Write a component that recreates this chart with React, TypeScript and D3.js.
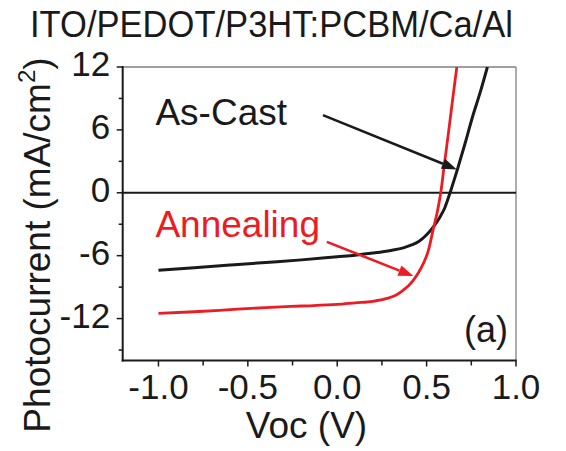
import React from "react";
import * as d3 from "d3";

const title = "ITO/PEDOT/P3HT:PCBM/Ca/Al";
const xLabel = "Voc (V)";
const yLabelMain = "Photocurrent (mA/cm";
const yTicks = [-12, -6, 0, 6, 12];
const yMinorTicks = [-15, -9, -3, 3, 9];
const xTicks = [-1.0, -0.5, 0.0, 0.5, 1.0];
const xMinorTicks = [-0.75, -0.25, 0.25, 0.75];

const asCastV = [-1.0, -0.8, -0.6, -0.4, -0.2, 0.0, 0.1, 0.2, 0.3, 0.37, 0.42, 0.46, 0.5, 0.54, 0.575, 0.6, 0.631, 0.674, 0.715, 0.757, 0.8, 0.84];
const asCastJ = [-7.4, -7.15, -6.9, -6.65, -6.4, -6.1, -5.95, -5.75, -5.5, -5.25, -4.95, -4.6, -4.0, -3.2, -2.3, -1.5, 0, 2.33, 4.7, 7.25, 9.6, 12];

const annealV = [-1.0, -0.8, -0.6, -0.4, -0.2, 0.0, 0.1, 0.2, 0.278, 0.33, 0.37, 0.4, 0.426, 0.455, 0.482, 0.51, 0.538, 0.56, 0.579, 0.6, 0.625, 0.65, 0.669];
const annealJ = [-11.5, -11.35, -11.15, -10.95, -10.8, -10.65, -10.5, -10.35, -10.08, -9.75, -9.28, -8.85, -8.33, -7.6, -6.74, -5.5, -3.4, -1.8, 0, 2.8, 6.1, 9.5, 12];

// annotation positions (data coordinates)
const asCastLabel = { v: -1.017, j: 6.47, text: "As-Cast" };
const annealLabel = { v: -1.017, j: -4.2, text: "Annealing" };
const asCastArrow = { v1: -0.08, j1: 7.41, v2: 0.669, j2: 2.23 };
const annealArrow = { v1: -0.058, j1: -4.68, v2: 0.426, j2: -7.95 };

const W = 566;
const H = 451;
const left = 122.7;
const right = 516;
const top = 67;
const bottom = 360.5;
const FONT = "'Liberation Sans', Arial, Helvetica, sans-serif";
const BLACK = "#1a1a1a";
const RED = "#ec1c24";

export default function App() {
  const x = d3.scaleLinear().domain([-1.2, 1.0]).range([left, right]);
  const y = d3.scaleLinear().domain([-16, 12]).range([bottom, top]);

  const line = d3
    .line<[number, number]>()
    .x((d) => x(d[0]))
    .y((d) => y(d[1]))
    .curve(d3.curveMonotoneX);

  const asCast: [number, number][] = asCastV.map((v, i) => [v, asCastJ[i]]);
  const anneal: [number, number][] = annealV.map((v, i) => [v, annealJ[i]]);

  const arrow = (a: { v1: number; j1: number; v2: number; j2: number }, color: string) => {
    const x1 = x(a.v1), y1 = y(a.j1), x2 = x(a.v2), y2 = y(a.j2);
    const ang = Math.atan2(y2 - y1, x2 - x1);
    const len = 15, half = 5.5;
    const bx = x2 - len * Math.cos(ang), by = y2 - len * Math.sin(ang);
    const p1 = [bx + half * Math.sin(ang), by - half * Math.cos(ang)];
    const p2 = [bx - half * Math.sin(ang), by + half * Math.cos(ang)];
    return (
      <g>
        <line x1={x1} y1={y1} x2={bx} y2={by} stroke={color} strokeWidth={2.6} />
        <polygon points={`${x2},${y2} ${p1[0]},${p1[1]} ${p2[0]},${p2[1]}`} fill={color} />
      </g>
    );
  };

  return (
    <svg
      width={W}
      height={H}
      style={{ position: "absolute", left: 0, top: 0, background: "#fff" }}
      fontFamily={FONT}
    >
      <defs>
        <clipPath id="plotClip">
          <rect x={left} y={top} width={right - left} height={bottom - top} />
        </clipPath>
      </defs>

      <text x={30} y={37} fontSize={36} fill={BLACK} textLength={483} lengthAdjust="spacingAndGlyphs">
        {title}
      </text>

      {/* frame */}
      <line x1={left} y1={top} x2={right} y2={top} stroke="#808080" strokeWidth={1.3} />
      <line x1={right} y1={top} x2={right} y2={bottom} stroke="#808080" strokeWidth={1.3} />
      <line x1={left} y1={top - 1} x2={left} y2={bottom + 1} stroke={BLACK} strokeWidth={2} />
      <line x1={left - 1} y1={bottom} x2={right + 0.7} y2={bottom} stroke={BLACK} strokeWidth={2} />
      <line x1={left} y1={y(0)} x2={right} y2={y(0)} stroke={BLACK} strokeWidth={2} />

      {/* y ticks */}
      {yTicks.map((t) => (
        <g key={"y" + t}>
          <line x1={left - 6} x2={left} y1={y(t)} y2={y(t)} stroke={BLACK} strokeWidth={1.5} />
          <text x={left - 12.5} y={y(t) + 9} fontSize={35} textAnchor="end" fill={BLACK}>
            {t}
          </text>
        </g>
      ))}
      {yMinorTicks.map((t) => (
        <line key={"ym" + t} x1={left - 4} x2={left} y1={y(t)} y2={y(t)} stroke={BLACK} strokeWidth={1.5} />
      ))}

      {/* x ticks */}
      {xTicks.map((t) => (
        <g key={"x" + t}>
          <line x1={x(t)} x2={x(t)} y1={bottom} y2={bottom + 6} stroke={BLACK} strokeWidth={1.5} />
          <text x={x(t)} y={399} fontSize={35} textAnchor="middle" fill={BLACK}>
            {d3.format(".1f")(t).replace("−", "-")}
          </text>
        </g>
      ))}
      {xMinorTicks.map((t) => (
        <line key={"xm" + t} x1={x(t)} x2={x(t)} y1={bottom} y2={bottom + 5} stroke={BLACK} strokeWidth={1.5} />
      ))}

      {/* axis titles */}
      <text x={306.5} y={438} fontSize={37} textAnchor="middle" fill={BLACK}>
        {xLabel}
      </text>
      <text
        transform={`translate(50,${(55 + 435) / 2}) rotate(-90)`}
        fontSize={37}
        textAnchor="middle"
        fill={BLACK}
      >
        {yLabelMain}
        <tspan fontSize={24} dy={-15}>2</tspan>
        <tspan dy={15}>)</tspan>
      </text>

      {/* curves */}
      <g clipPath="url(#plotClip)">
        <path d={line(asCast) || ""} fill="none" stroke={BLACK} strokeWidth={3} strokeLinejoin="round" />
        <path d={line(anneal) || ""} fill="none" stroke={RED} strokeWidth={2.8} strokeLinejoin="round" />
      </g>

      {/* annotations */}
      <text x={x(asCastLabel.v)} y={y(asCastLabel.j)} fontSize={37} fill={BLACK}>
        {asCastLabel.text}
      </text>
      <text x={x(annealLabel.v)} y={y(annealLabel.j)} fontSize={37} fill={RED}>
        {annealLabel.text}
      </text>
      {arrow(asCastArrow, BLACK)}
      {arrow(annealArrow, RED)}

      <text x={508} y={342} fontSize={36} textAnchor="end" fill={BLACK}>
        (a)
      </text>
    </svg>
  );
}
